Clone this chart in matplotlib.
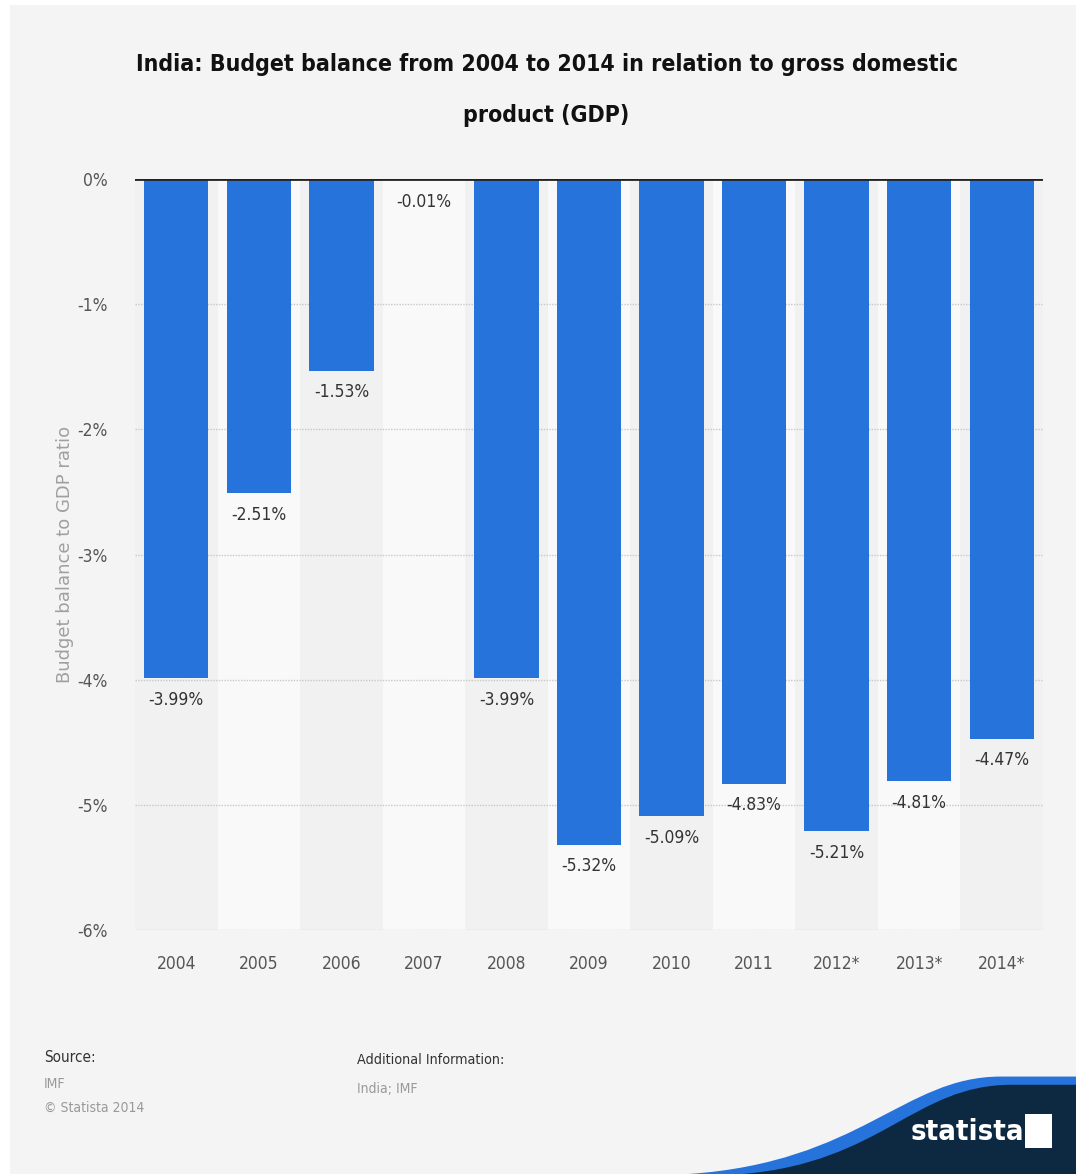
import numpy as np
import matplotlib
matplotlib.use("Agg")
from matplotlib import pyplot as plt
from matplotlib.patches import Rectangle, PathPatch
from matplotlib.path import Path

years = ["2004", "2005", "2006", "2007", "2008", "2009", "2010", "2011", "2012*", "2013*", "2014*"]
balance = [-3.99, -2.51, -1.53, -0.01, -3.99, -5.32, -5.09, -4.83, -5.21, -4.81, -4.47]
value_labels = ["-3.99%", "-2.51%", "-1.53%", "-0.01%", "-3.99%", "-5.32%", "-5.09%", "-4.83%", "-5.21%", "-4.81%", "-4.47%"]
yticks = [0, -1, -2, -3, -4, -5, -6]

# narrow look of the statista fonts
plt.rcParams['font.family'] = ['DejaVu Sans']
plt.rcParams['font.stretch'] = 'condensed'

fig = plt.figure(figsize=(10.76, 11.74), dpi=100)
fig.patch.set_facecolor("white")
fig.add_artist(Rectangle((0.009, 0.0), 0.991, 0.996, transform=fig.transFigure,
                         facecolor="#f4f4f4", edgecolor="none", zorder=-10))

ax = fig.add_axes([0.1255, 0.2078, 0.8438, 0.6397])
ax.set_facecolor("none")
x = np.arange(len(years))

# alternating column stripes
for i in x:
    c = "#f1f1f1" if i % 2 == 0 else "#f9f9f9"
    ax.axvspan(i - 0.5, i + 0.5, color=c, zorder=0, lw=0)

for t in yticks[1:]:
    ax.axhline(t, color="#c8c8c8", lw=1, ls=(0, (1, 1)), zorder=1)

ax.bar(x, balance, width=0.78, color="#2673dc", zorder=2)
ax.axhline(0, color="#222222", lw=2, zorder=3)

for xi, v, lab in zip(x, balance, value_labels):
    ax.text(xi, v - 0.1, lab, ha="center", va="top", fontsize=12.5, color="#333333")

ax.set_xlim(-0.5, len(years) - 0.5)
ax.set_ylim(-6, 0)
ax.set_yticks(yticks)
ax.set_yticklabels([f"{t}%" for t in yticks], fontsize=12.5, color="#555555")
ax.set_xticks(x)
ax.set_xticklabels(years, fontsize=12.5, color="#555555")
ax.tick_params(length=0, pad=18)
ax.tick_params(axis="y", pad=20)
for s in ax.spines.values():
    s.set_visible(False)

fig.text(0.060, 0.528, "Budget balance to GDP ratio", rotation=90, ha="center", va="center",
         fontsize=13, color="#a0a0a0", fontstretch="normal")

fig.text(0.508, 0.945, "India: Budget balance from 2004 to 2014 in relation to gross domestic",
         ha="center", va="center", fontsize=16.6, fontweight="bold", color="#111111")
fig.text(0.508, 0.902, "product (GDP)",
         ha="center", va="center", fontsize=16.6, fontweight="bold", color="#111111")

# footer
fig.text(0.041, 0.099, "Source:", fontsize=11, color="#333333", va="center")
fig.text(0.041, 0.077, "IMF", fontsize=10, color="#999999", va="center")
fig.text(0.041, 0.056, "© Statista 2014", fontsize=10, color="#999999", va="center")
fig.text(0.332, 0.097, "Additional Information:", fontsize=10.3, color="#333333", va="center")
fig.text(0.332, 0.072, "India; IMF", fontsize=10, color="#999999", va="center")

# logo swoosh
codes = [Path.MOVETO, Path.CURVE4, Path.CURVE4, Path.CURVE4, Path.LINETO, Path.LINETO, Path.CLOSEPOLY]
verts_blue = [(0.64, 0.0), (0.80, 0.01), (0.84, 0.083), (0.93, 0.083), (1.0, 0.083),
              (1.0, 0.0), (0.64, 0.0)]
fig.add_artist(PathPatch(Path(verts_blue, codes), facecolor="#2673dc", edgecolor="none",
                         transform=fig.transFigure, zorder=5))
verts_navy = [(0.69, 0.0), (0.82, 0.01), (0.85, 0.076), (0.94, 0.076), (1.0, 0.076),
              (1.0, 0.0), (0.69, 0.0)]
fig.add_artist(PathPatch(Path(verts_navy, codes), facecolor="#0d2841", edgecolor="none",
                         transform=fig.transFigure, zorder=6))
fig.text(0.899, 0.036, "statista", fontsize=21, fontweight="bold", color="white",
         ha="center", va="center", zorder=7)
fig.add_artist(Rectangle((0.953, 0.022), 0.025, 0.029, transform=fig.transFigure,
                         facecolor="white", edgecolor="none", zorder=7))

fig.savefig("out.png", dpi=100, facecolor=fig.get_facecolor())
